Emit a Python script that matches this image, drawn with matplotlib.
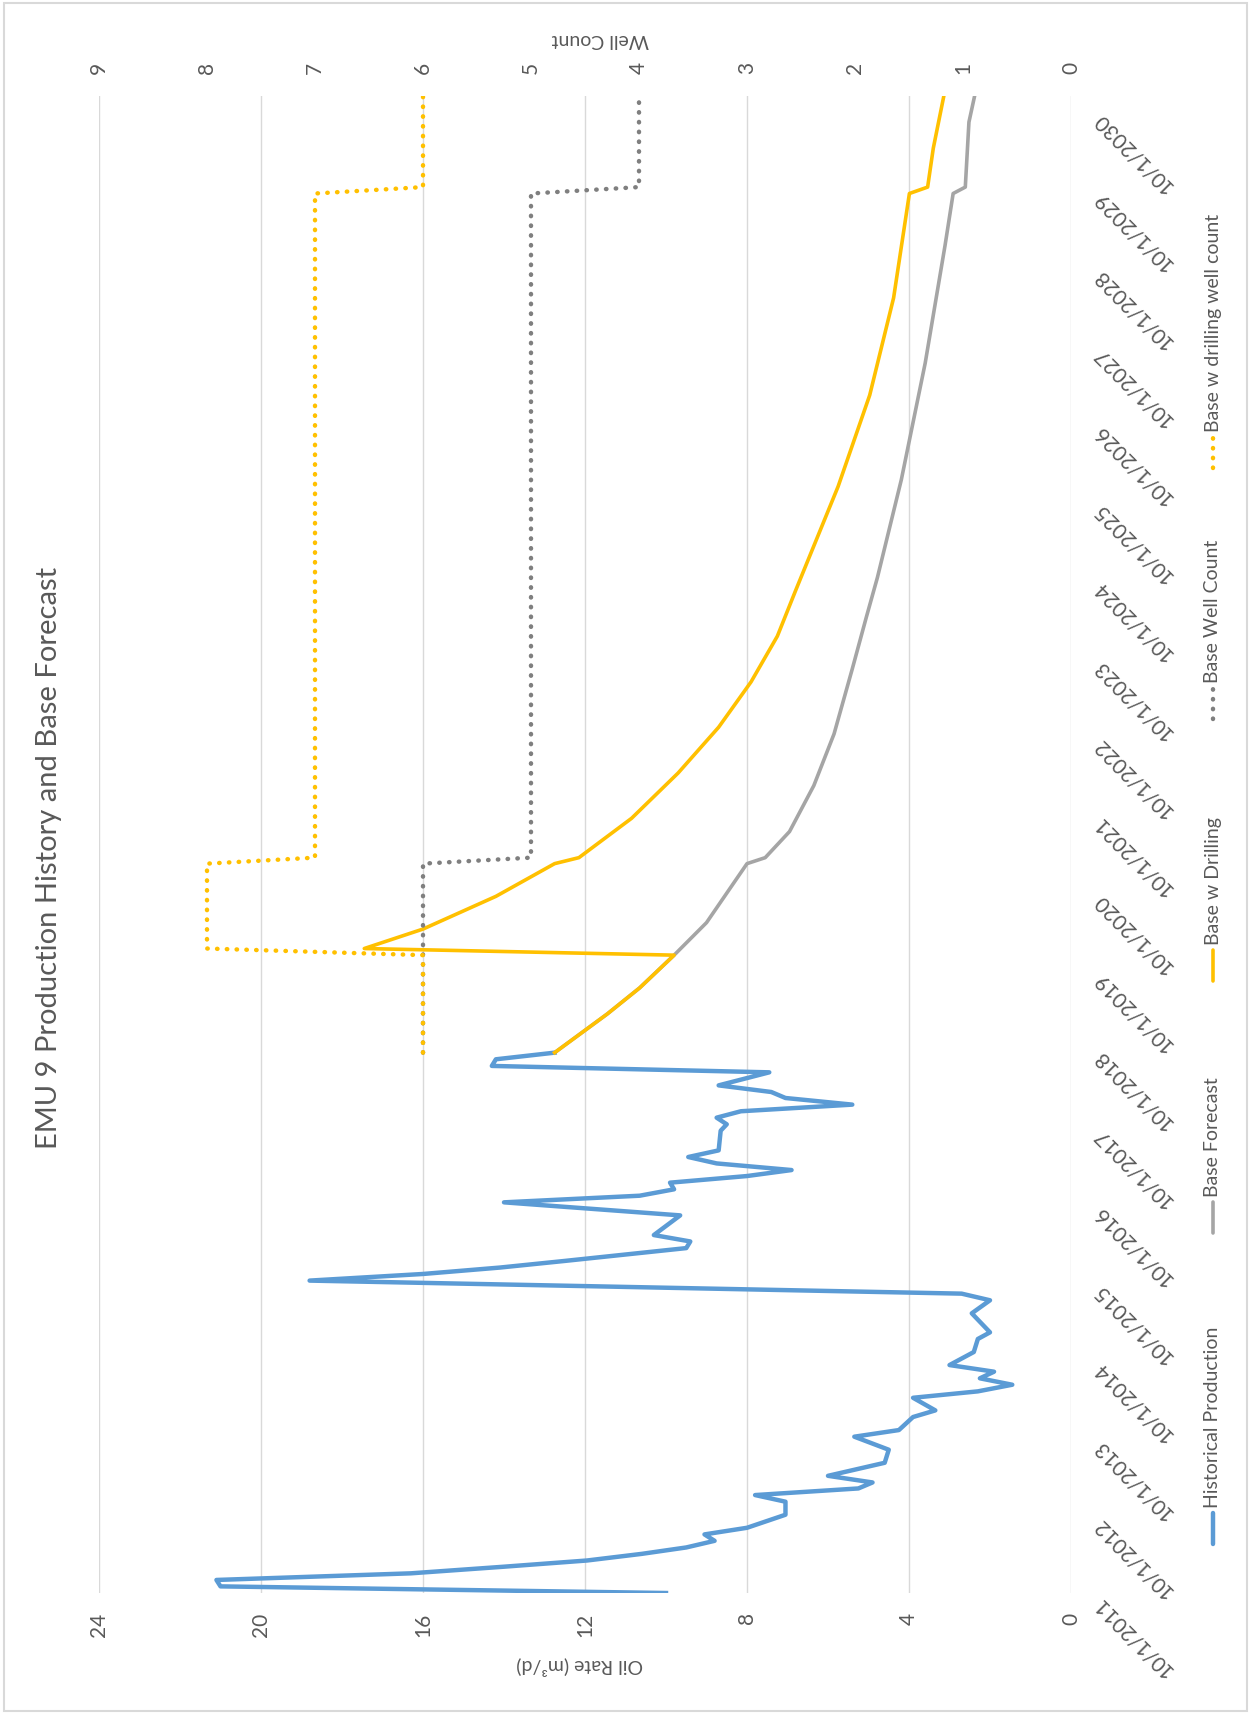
import matplotlib
matplotlib.use("Agg")
import matplotlib.pyplot as plt
import matplotlib.dates as mdates
from matplotlib.lines import Line2D
from matplotlib.patches import Rectangle
import pandas as pd

plt.rcParams["font.family"] = ["Lato", "DejaVu Sans"]

# historical oil rate (m3/d)
hist_dates = ["2011-10", "2011-11", "2011-12", "2012-01", "2012-02", "2012-03", "2012-04",
              "2012-05", "2012-06", "2012-07", "2012-08", "2012-10", "2012-12", "2013-01",
              "2013-02", "2013-03", "2013-04", "2013-06", "2013-08", "2013-10", "2013-11",
              "2014-01", "2014-02", "2014-04", "2014-05", "2014-06", "2014-07", "2014-08",
              "2014-09", "2014-11", "2015-01", "2015-02", "2015-05", "2015-07", "2015-08",
              "2015-10", "2015-11", "2015-12", "2016-01", "2016-03", "2016-04", "2016-05",
              "2016-08", "2016-10", "2016-11", "2016-12", "2017-01", "2017-02", "2017-03",
              "2017-04", "2017-05", "2017-06", "2017-09", "2017-10", "2017-11", "2017-12",
              "2018-01", "2018-02", "2018-03", "2018-04", "2018-06", "2018-07", "2018-08",
              "2018-09"]
hist_rate = [10.0, 21.0, 21.1, 16.3, 14.0, 11.95, 10.6,
             9.5, 8.8, 9.05, 8.0, 7.05, 7.05, 7.8,
             5.25, 4.9, 6.0, 4.6, 4.5, 5.35, 4.25,
             3.9, 3.35, 3.9, 2.3, 1.45, 2.25, 1.9,
             3.0, 2.4, 2.3, 2.0, 2.45, 2.0, 2.7,
             18.8, 16.0, 14.1, 12.5, 9.5, 9.4, 10.3,
             9.65, 14.0, 10.65, 9.8, 9.9, 8.0, 6.9,
             8.75, 9.45, 8.7, 8.65, 8.5, 8.75, 8.15,
             5.4, 7.05, 7.4, 8.7, 7.45, 14.3, 14.2,
             12.75]

# base forecast
base_dates = ["2018-09", "2019-03", "2019-07", "2019-12", "2020-05", "2021-02", "2021-03",
              "2021-07", "2022-02", "2022-10", "2023-08", "2024-04", "2024-10", "2026-01",
              "2027-07", "2029-01", "2029-09", "2029-10", "2030-08", "2030-12"]
base_rate = [12.75, 11.45, 10.65, 9.8, 9.0, 8.0, 7.55,
             6.95, 6.35, 5.85, 5.4, 5.05, 4.78, 4.19,
             3.6, 3.11, 2.91, 2.61, 2.52, 2.38]

# base with drilling
drill_dates = ["2018-09", "2019-03", "2019-07", "2019-12", "2020-01", "2020-04", "2020-09",
               "2021-02", "2021-03", "2021-09", "2022-04", "2022-11", "2023-06", "2024-01",
               "2024-08", "2025-12", "2027-02", "2028-05", "2029-09", "2029-10", "2030-04",
               "2030-12"]
drill_rate = [12.75, 11.45, 10.65, 9.8, 17.45, 16.0, 14.2,
              12.75, 12.15, 10.85, 9.7, 8.7, 7.9, 7.25,
              6.8, 5.75, 4.97, 4.38, 3.99, 3.54, 3.40,
              3.14]

# well counts
base_well_dates = ["2018-09", "2021-02", "2021-03", "2029-09", "2029-10", "2030-12"]
base_wells = [6, 6, 5, 5, 4, 4]
drill_well_dates = ["2018-09", "2019-12", "2020-01", "2021-02", "2021-03", "2029-09",
                    "2029-10", "2030-12"]
drill_wells = [6, 6, 8, 8, 7, 7, 6, 6]

date_labels = [f"10/1/{y}" for y in range(2011, 2031)]
rate_ticks = [0, 4, 8, 12, 16, 20, 24]
well_ticks = list(range(0, 10))


def d(lst):
    return mdates.date2num(pd.to_datetime(lst))


W, H = 1249, 1713
fig = plt.figure(figsize=(W / 100, H / 100), dpi=100)

# chart is drawn turned 90 degrees: oil rate runs right-to-left, dates bottom-to-top
left, right, top, bottom = 99, 1071, 96, 1593
ax = fig.add_axes([left / W, 1 - bottom / H, (right - left) / W, (bottom - top) / H])

txt = "#595959"
grid = "#D9D9D9"

ax.plot(hist_rate, d(hist_dates), color="#5B9BD5", lw=3.2, solid_joinstyle="round")
ax.plot(base_rate, d(base_dates), color="#A5A5A5", lw=2.6, solid_joinstyle="round")
ax.plot(drill_rate, d(drill_dates), color="#FFC000", lw=2.6, solid_joinstyle="round")

ax.set_xlim(24, 0)
ax.set_ylim(d(["2011-10-01"])[0], d(["2030-12-01"])[0])
ax.set_xticks(rate_ticks)
ax.set_xticklabels([str(v) for v in rate_ticks], rotation=90, fontsize=15, color=txt)
ax.tick_params(axis="x", length=0, pad=14)
ax.grid(axis="x", color=grid, lw=1)
ax.set_axisbelow(True)

ax.yaxis.tick_right()
ax.set_yticks(d([f"{y}-10-01" for y in range(2011, 2031)]))
ax.set_yticklabels(date_labels, rotation=135, fontsize=15, color=txt,
                   ha="left", va="top", rotation_mode="default")
ax.tick_params(axis="y", length=0, pad=13)
for s in ax.spines.values():
    s.set_visible(False)

ax2 = ax.twiny()
ax2.plot(base_wells, d(base_well_dates), color="#7F7F7F", lw=3.2,
         linestyle=(0, (0.1, 2.1)), dash_capstyle="round")
ax2.plot(drill_wells, d(drill_well_dates), color="#FFC000", lw=3.2,
         linestyle=(0, (0.1, 2.1)), dash_capstyle="round")
ax2.set_xlim(9, 0)
ax2.set_xticks(well_ticks)
ax2.set_xticklabels([str(v) for v in well_ticks], rotation=90, fontsize=15, color=txt)
ax2.tick_params(axis="x", length=0, pad=16)
for s in ax2.spines.values():
    s.set_visible(False)

# titles
fig.text(49 / W, 1 - 858 / H, "EMU 9 Production History and Base Forecast",
         rotation=90, ha="center", va="center", fontsize=21, color=txt)
fig.text(580 / W, 1 - 1666 / H, "Oil Rate (m³/d)", rotation=180,
         ha="center", va="center", fontsize=14, color=txt)
fig.text(600 / W, 1 - 40 / H, "Well Count", rotation=180,
         ha="center", va="center", fontsize=14, color=txt)

# legend, turned with the chart
legend_items = ["Historical Production", "Base Forecast", "Base w Drilling",
                "Base Well Count", "Base w drilling well count"]
legend_styles = [
    dict(color="#5B9BD5", lw=3.2),
    dict(color="#A5A5A5", lw=2.6),
    dict(color="#FFC000", lw=2.6),
    dict(color="#7F7F7F", lw=3.2, linestyle=(0, (0.1, 2.1)), dash_capstyle="round"),
    dict(color="#FFC000", lw=3.2, linestyle=(0, (0.1, 2.1)), dash_capstyle="round"),
]
legend_text_y = [1508, 1197, 945, 683, 432]
lx = 1213
for name, st, ty in zip(legend_items, legend_styles, legend_text_y):
    fig.add_artist(Line2D([lx / W, lx / W], [1 - (ty + 36) / H, 1 - (ty + 5) / H],
                          solid_capstyle="round", **st))
    fig.text(lx / W, 1 - ty / H, name, rotation=90, ha="center", va="bottom",
             fontsize=14, color=txt)

fig.add_artist(Rectangle((4 / W, 2 / H), 1243 / W, 1708 / H, fill=False,
                         edgecolor=grid, lw=1.5, transform=fig.transFigure))

fig.savefig("out.png", dpi=100)
